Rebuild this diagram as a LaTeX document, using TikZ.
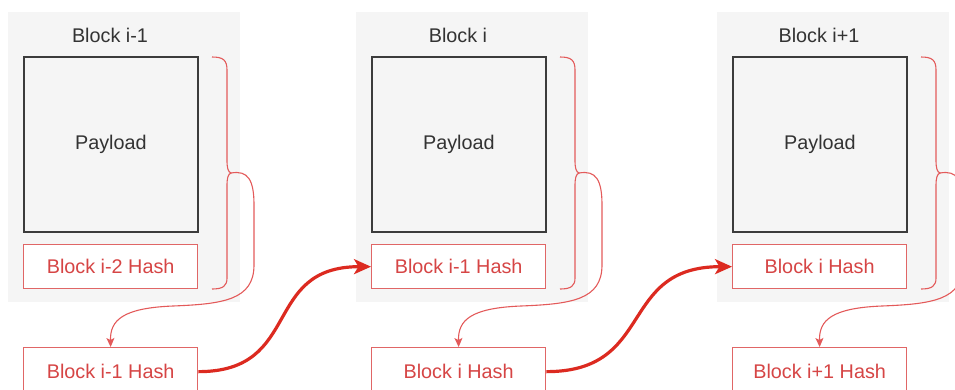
\documentclass[tikz,border=0pt]{standalone}
\usepackage{fontspec}
\setmainfont{Liberation Sans}
\usetikzlibrary{arrows.meta}
\definecolor{panel}{HTML}{F5F5F5}
\definecolor{ink}{HTML}{333333}
\definecolor{frame}{HTML}{3C3C3C}
\definecolor{hashred}{HTML}{E06666}
\definecolor{hashtext}{HTML}{D64545}
\definecolor{thinred}{HTML}{E35A5A}
\definecolor{linkred}{HTML}{DC2A20}
\begin{document}
\begin{tikzpicture}[x=1pt,y=-1pt,
  every node/.style={font=\fontsize{19.8}{23}\selectfont, inner sep=0pt},
  panelbox/.style={fill=panel, draw=none, minimum width=232pt, minimum height=290pt, anchor=north west},
  titletext/.style={text=ink},
  payloadbox/.style={draw=frame, line width=1.8pt, fill=panel, minimum width=174pt, minimum height=175pt, anchor=north west, text=ink},
  hashbox/.style={draw=hashred, line width=1.3pt, fill=white, minimum width=174pt, minimum height=44pt, anchor=north west, text=hashtext},
  outbox/.style={draw=hashred, line width=1.3pt, fill=white, minimum width=174pt, minimum height=48pt, anchor=north west, text=hashtext},
  bracepath/.style={draw=thinred, line width=1.1pt},
  thinlink/.style={draw=thinred, line width=1.1pt, -{Stealth[length=9pt,width=8pt,inset=2pt]}},
  thicklink/.style={draw=linkred, line width=3.2pt, -{Stealth[length=17pt,width=15pt,inset=4.5pt]}}
]
\useasboundingbox (0,0) rectangle (955,389);
\clip (0,0) rectangle (955,389);

\foreach \i/\L/\title/\inner/\outer in {
    1/23/{Block i-1}/{Block i-2 Hash}/{Block i-1 Hash},
    2/371/{Block i}/{Block i-1 Hash}/{Block i Hash},
    3/732/{Block i+1}/{Block i Hash}/{Block i+1 Hash}} {
  % grey panel holding one block
  \node[panelbox] (bg\i) at (\L-15,12) {};
  \node[titletext] (title\i) at (\L+87,35) {\title};
  \node[payloadbox] (pay\i) at (\L,56) {Payload};
  \node[hashbox] (hash\i) at (\L,244) {\inner};
  % hash computed from the whole block
  \node[outbox] (out\i) at (\L,347) {\outer};
  % curly brace spanning payload and stored hash
  \coordinate (tip\i) at (\L+208,173);
  \draw[bracepath] (\L+189,57) .. controls (\L+200,57) and (\L+204,60) .. (\L+204,70)
      -- (\L+204,160) .. controls (\L+204,168) and (\L+205,172) .. (tip\i)
      .. controls (\L+205,174) and (\L+204,178) .. (\L+204,186)
      -- (\L+204,278) .. controls (\L+204,286) and (\L+200,289) .. (\L+189,289);
  % brace feeds the hash of the block
  \draw[thinlink] (tip\i) .. controls (\L+225,170) and (\L+231,180) .. (\L+231,205)
      -- (\L+231,265) .. controls (\L+231,300) and (\L+200,304) .. (\L+150,306)
      .. controls (\L+100,308) and (\L+87,320) .. (out\i.north);
}

% each block hash is stored in the next block
\draw[thicklink] (out1.east) .. controls +(105,0) and +(-110,0) .. (hash2.west);
\draw[thicklink] (out2.east) .. controls +(110,0) and +(-115,0) .. (hash3.west);
\end{tikzpicture}
\end{document}
